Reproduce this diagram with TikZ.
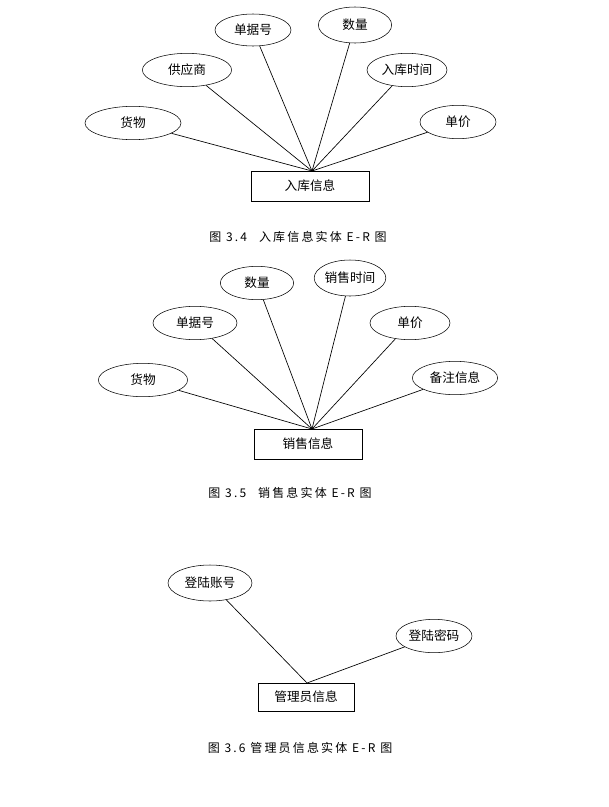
\documentclass[tikz,border=0pt]{standalone}
\usepackage{fontspec}
\setmainfont{Noto Sans CJK SC}
\usetikzlibrary{shapes.geometric}
\begin{document}
\begin{tikzpicture}[x=0.75pt,y=-0.75pt,
  attr/.style={draw,ellipse,inner sep=0pt,font=\fontsize{9.5}{10}\selectfont},
  ent/.style={draw,rectangle,inner sep=0pt,font=\fontsize{9.5}{10}\selectfont},
  captext/.style={font=\fontsize{9}{10}\selectfont\addfontfeature{LetterSpace=18}},
  ln/.style={line width=0.5pt}]
\useasboundingbox (0,0) rectangle (609,807);
\fill[white] (0,0) rectangle (609,807);
% Diagram 1
\node[ent,minimum width=88.5pt,minimum height=22.5pt] (e1) at (310,186) {入库信息};
\coordinate (c1) at (312,171);
\node[attr,minimum width=72pt,minimum height=25pt] (a1) at (133,123) {货物};
\node[attr,minimum width=67pt,minimum height=25pt] (a2) at (187,70) {供应商};
\node[attr,minimum width=57pt,minimum height=24pt] (a3) at (253,30) {单据号};
\node[attr,minimum width=55pt,minimum height=27pt] (a4) at (355,25) {数量};
\node[attr,minimum width=60pt,minimum height=25pt] (a5) at (407,70) {入库时间};
\node[attr,minimum width=57pt,minimum height=25pt] (a6) at (458,122) {单价};
\foreach \a in {a1,a2,a3,a4,a5,a6} \draw[ln] (\a) -- (c1);
\node[captext] (t1) at (298,237) {图 3.4\quad 入库信息实体 E-R 图};
% Diagram 2
\node[ent,minimum width=81pt,minimum height=22.5pt] (e2) at (308,444) {销售信息};
\coordinate (c2) at (312,429);
\node[attr,minimum width=55pt,minimum height=25pt] (b1) at (257,283) {数量};
\node[attr,minimum width=52pt,minimum height=27pt] (b2) at (350,278) {销售时间};
\node[attr,minimum width=63pt,minimum height=25pt] (b3) at (195,323) {单据号};
\node[attr,minimum width=60pt,minimum height=25pt] (b4) at (410,323) {单价};
\node[attr,minimum width=67pt,minimum height=25pt] (b5) at (143,380) {货物};
\node[attr,minimum width=64pt,minimum height=25pt] (b6) at (455,378) {备注信息};
\foreach \a in {b1,b2,b3,b4,b5,b6} \draw[ln] (\a) -- (c2);
\node[captext] (t2) at (290,493) {图 3.5\quad 销售息实体 E-R 图};
% Diagram 3
\node[ent,minimum width=72pt,minimum height=21pt] (e3) at (306,697) {管理员信息};
\coordinate (c3) at (307,683);
\node[attr,minimum width=63pt,minimum height=27pt] (d1) at (210,583) {登陆账号};
\node[attr,minimum width=57pt,minimum height=25pt] (d2) at (434,636) {登陆密码};
\foreach \a in {d1,d2} \draw[ln] (\a) -- (c3);
\node[captext] (t3) at (300,748) {图 3.6 管理员信息实体 E-R 图};
\end{tikzpicture}
\end{document}
